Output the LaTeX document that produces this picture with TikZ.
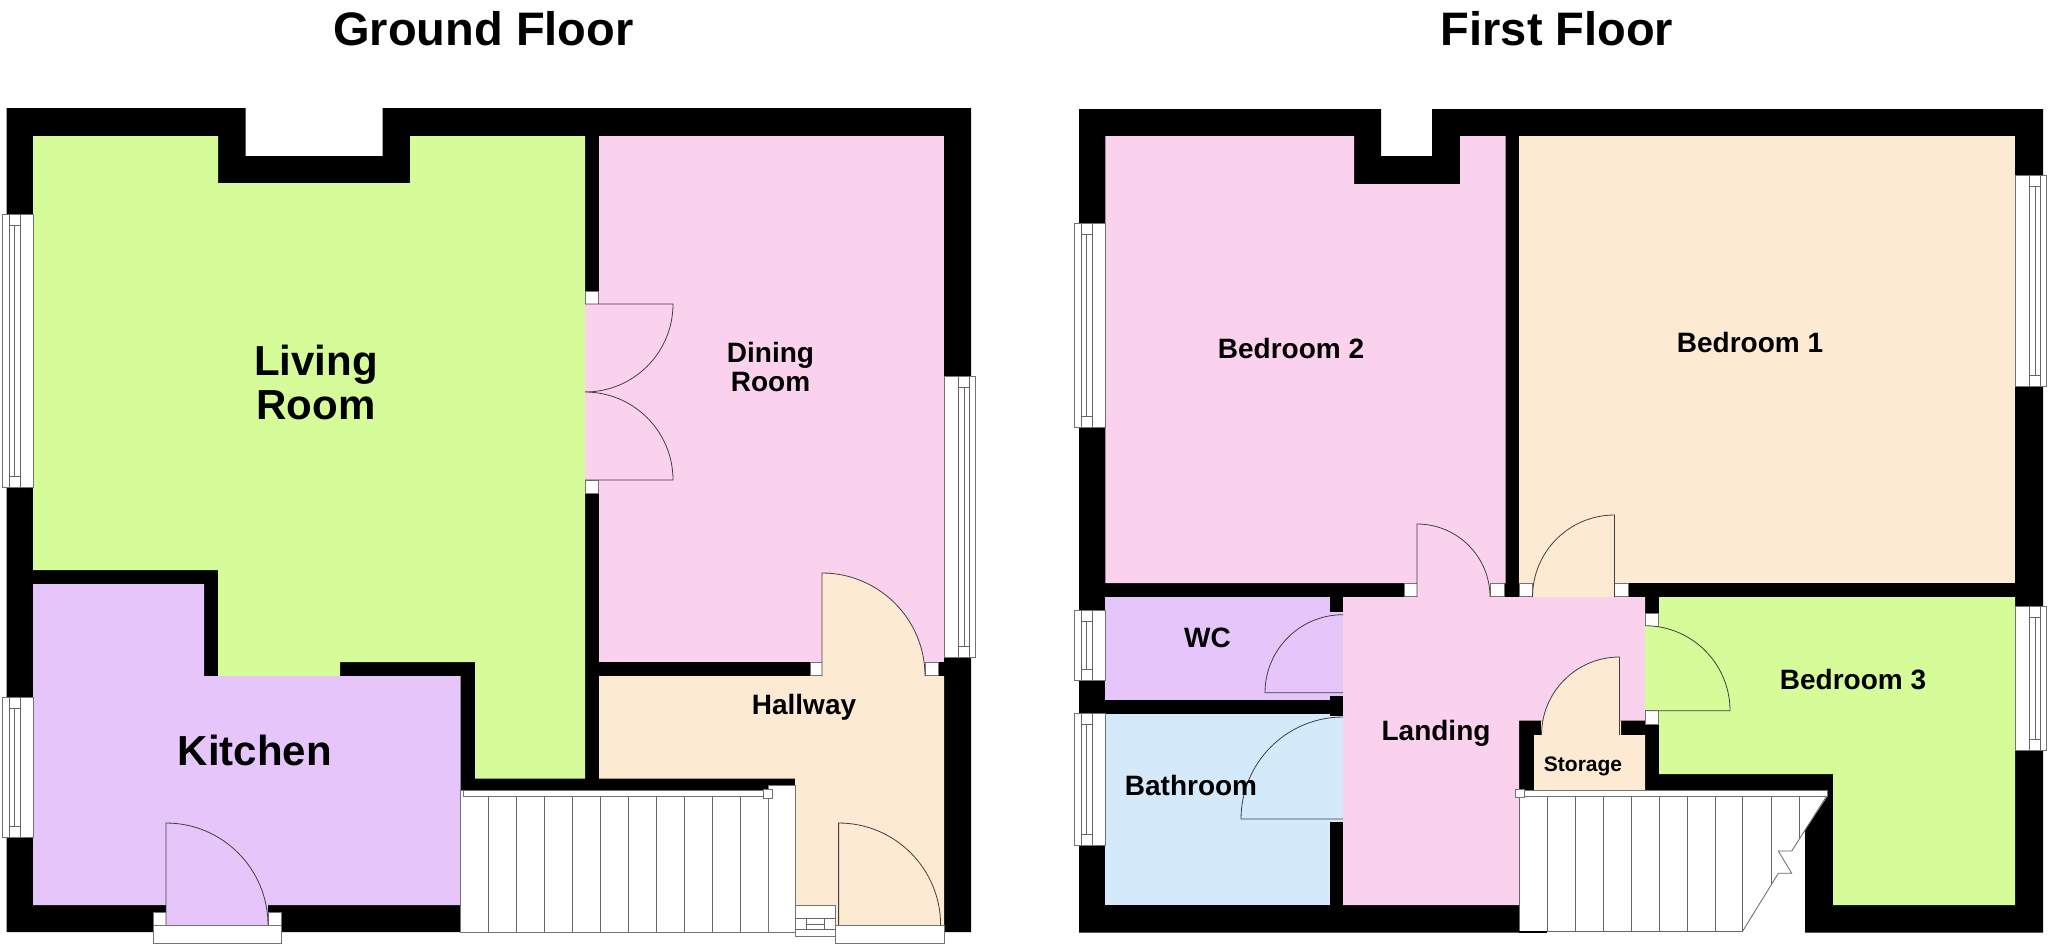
\documentclass[tikz,border=0pt]{standalone}
\usepackage{fontspec}
\setmainfont{Liberation Sans}
\definecolor{lawn}{HTML}{D6FB99}
\definecolor{rose}{HTML}{FAD2EE}
\definecolor{lilac}{HTML}{E5C5FA}
\definecolor{sand}{HTML}{FCEBD2}
\definecolor{sky}{HTML}{D4EAFB}
\tikzset{
  titlelabel/.style={font=\fontsize{23.5}{26}\selectfont\bfseries,anchor=base},
  biglabel/.style={font=\fontsize{21}{22}\selectfont\bfseries,align=center},
  roomlabel/.style={font=\fontsize{14}{14.2}\selectfont\bfseries,align=center},
  baselabel/.style={font=\fontsize{14}{16}\selectfont\bfseries,anchor=base},
  fineline/.style={draw=black!60,line width=.4pt},
  leafline/.style={draw=black!75,line width=.4pt},
  whitebox/.style={fill=white,draw=black!55,line width=.4pt},
}
% hinge x, hinge y, radius, leaf angle, end angle, colour
\newcommand{\doorleaf}[6]{
  \fill[#6] (#1,#2) -- ++(#4:#3) arc[start angle=#4,end angle=#5,radius=#3] -- cycle;
  \draw[leafline] (#1,#2) -- ++(#4:#3) arc[start angle=#4,end angle=#5,radius=#3];
}
% left x, top y, right x, bottom y, first inner x, second inner x, third inner x
\newcommand{\windowbox}[7]{
  \draw[whitebox] (#1,#2) rectangle (#3,#4);
  \draw[fineline] (#5,#2) -- (#5,#4);
  \draw[fineline] (#7,#2) -- (#7,#4);
  \draw[fineline] (#6,#2+11) -- (#6,#4-11);
  \draw[fineline] (#5,#2+11) -- (#7,#2+11);
  \draw[fineline] (#5,#4-11) -- (#7,#4-11);
}
\begin{document}
\begin{tikzpicture}[x=.5pt,y=-.5pt]
\useasboundingbox (0,0) rectangle (2048,944);
\node[titlelabel] (ground) at (483.5,45) {Ground Floor};
\node[titlelabel] (first) at (1557,45) {First Floor};

% ground floor
\fill[black] (6.5,108)--(245.5,108)--(245.5,156)--(382.6,156)--(382.6,108)--(971,108)--(971,932)--(6.5,932)--cycle;
\fill[lawn] (33,136)--(218,136)--(218,183)--(410,183)--(410,136)--(585,136)--(585,778.7)--(475,778.7)--(475,662)--(340,662)--(340,676)--(218,676)--(218,570)--(33,570)--cycle;
\fill[rose] (599,136) rectangle (944,662);
\fill[rose] (585,304) rectangle (599,480);
\fill[lilac] (33,584)--(204,584)--(204,676)--(460.5,676)--(460.5,905)--(33,905)--cycle;
\fill[lilac] (166,905) rectangle (268,925);
\fill[sand] (599,676)--(944,676)--(944,925)--(795,925)--(795,778.7)--(599,778.7)--cycle;
\fill[sand] (822,662) rectangle (925,676);
\foreach \x/\y in {585/291,585/480,810/662,925/662}
  \draw[whitebox] (\x,\y) rectangle ++(13,13);
\foreach \x/\y in {153/912,268/912}
  \draw[whitebox] (\x,\y) rectangle ++(13,13);
\doorleaf{585}{304}{88}{0}{90}{rose}
\doorleaf{585}{480}{88}{0}{-90}{rose}
\doorleaf{822}{676}{103}{-90}{0}{sand}
\doorleaf{838.6}{925}{102}{-90}{0}{sand}
\doorleaf{166}{925}{102}{-90}{0}{lilac}
\windowbox{2}{214}{33}{487}{9}{14}{20}
\windowbox{2}{697}{33}{837}{9}{14}{20}
\windowbox{944}{376}{975}{657}{958}{964}{969}
% ground floor stairs
\draw[whitebox] (460.5,790) rectangle (768.5,932);
\draw[whitebox] (768.5,785) rectangle (795,932);
\foreach \x in {488.5,516.6,544.6,572,600,628,656,684,712,740}
  \draw[fineline] (\x,796.7) -- (\x,932);
\draw[whitebox] (463,790.7) rectangle (768.5,796.7);
\draw[whitebox] (763,789) rectangle (772,798);
% threshold and meter box
\draw[whitebox] (153,925) rectangle (281,943);
\draw[whitebox] (835.7,925) rectangle (944,943);
\draw[whitebox] (795,905) rectangle (835.7,936.7);
\draw[fineline] (795,918.7) -- (835.7,918.7);
\draw[fineline] (795,929.7) -- (835.7,929.7);
\draw[fineline] (806,918.7) rectangle (824.7,929.7);
\draw[fineline] (806,924) -- (824.7,924);

% first floor
\fill[black] (1079,109)--(1381,109)--(1381,156)--(1432,156)--(1432,109)--(2043,109)--(2043,932.7)--(1805,932.7)--(1805,830.6)--(1827,797)--(1827,790)--(1519,790)--(1519,932.7)--(1079,932.7)--cycle;
\fill[rose] (1105.4,136)--(1354,136)--(1354,184)--(1460,184)--(1460,136)--(1505.5,136)--(1505.5,583)--(1105.4,583)--cycle;
\fill[sand] (1519,136) rectangle (2015,583);
\fill[rose] (1417,583) rectangle (1490.4,597);
\fill[sand] (1532.6,583) rectangle (1614.5,597);
\fill[rose] (1343,597)--(1645,597)--(1645,720.7)--(1519,720.7)--(1519,905)--(1343,905)--cycle;
\fill[sand] (1534,735)--(1541,735)--(1541,720.7)--(1621,720.7)--(1621,735)--(1645,735)--(1645,790)--(1534,790)--cycle;
\fill[lawn] (1659,597)--(2015,597)--(2015,905)--(1833,905)--(1833,774)--(1659,774)--cycle;
\fill[lawn] (1645,626) rectangle (1659,710.7);
\fill[lilac] (1105.4,597) rectangle (1329.7,700);
\fill[lilac] (1329.7,611.7) rectangle (1343,696);
\fill[sky] (1105.4,713.7) rectangle (1329.7,905);
\fill[sky] (1329.7,716) rectangle (1343,821.7);
\foreach \x/\y in {1404/583,1490.4/583,1519/583,1614.5/583,1645/613,1645/710.7}
  \draw[whitebox] (\x,\y) rectangle ++(13.5,13.5);
\doorleaf{1417}{597}{73}{-90}{0}{rose}
\doorleaf{1614.5}{597}{82}{-90}{-180}{sand}
\doorleaf{1619.5}{735}{78}{-90}{-180}{sand}
\doorleaf{1645}{710.7}{85}{0}{-90}{lawn}
\doorleaf{1343}{692.7}{78}{180}{270}{lilac}
\doorleaf{1343}{819}{102}{180}{270}{sky}
\windowbox{1074}{223}{1105}{427}{1081}{1086}{1092}
\windowbox{1074}{610}{1105}{680}{1081}{1086}{1092}
\windowbox{1074}{713}{1105}{845}{1081}{1086}{1092}
\windowbox{2015}{175}{2046}{386}{2029}{2035}{2040}
\windowbox{2015}{606}{2046}{750}{2029}{2035}{2040}
% first floor stairs
\foreach \x in {1547,1575.4,1603.8,1631.5,1659,1687.6,1715,1742.7}
  \draw[fineline] (\x,796.7) -- (\x,931);
\draw[fineline] (1771,796.7) -- (1771,885);
\draw[fineline] (1799,796.7) -- (1799,838);
\draw[fineline] (1519,931) -- (1742.7,931);
\draw[fineline] (1519,790) -- (1519,931);
\draw[black,line width=.8pt] (1519,932) -- (1547,932);
\draw[fineline] (1826,797)--(1791.7,851)--(1778.3,851)--(1791.7,873.3)--(1778.3,873.3)--(1742.7,931);
\draw[whitebox] (1515,790) rectangle (1827,796.7);
\draw[whitebox] (1515,789) rectangle (1524,797);

% room names
\node[biglabel] (living) at (316,382) {Living\\Room};
\node[biglabel,anchor=base] (kitchen) at (255,765) {Kitchen};
\node[roomlabel] (dining) at (770.5,367) {Dining\\Room};
\node[baselabel] (hallway) at (804,714) {Hallway};
\node[baselabel] (bedtwo) at (1291,358) {Bedroom 2};
\node[baselabel] (bedone) at (1750,352) {Bedroom 1};
\node[baselabel] (bedthree) at (1853,689) {Bedroom 3};
\node[baselabel] (wc) at (1207.4,647) {WC};
\node[baselabel] (landing) at (1436,740) {Landing};
\node[baselabel] (bathroom) at (1191,795) {Bathroom};
\node[baselabel,font=\fontsize{10.5}{12}\selectfont\bfseries] (storage) at (1583,771) {Storage};
\end{tikzpicture}
\end{document}
